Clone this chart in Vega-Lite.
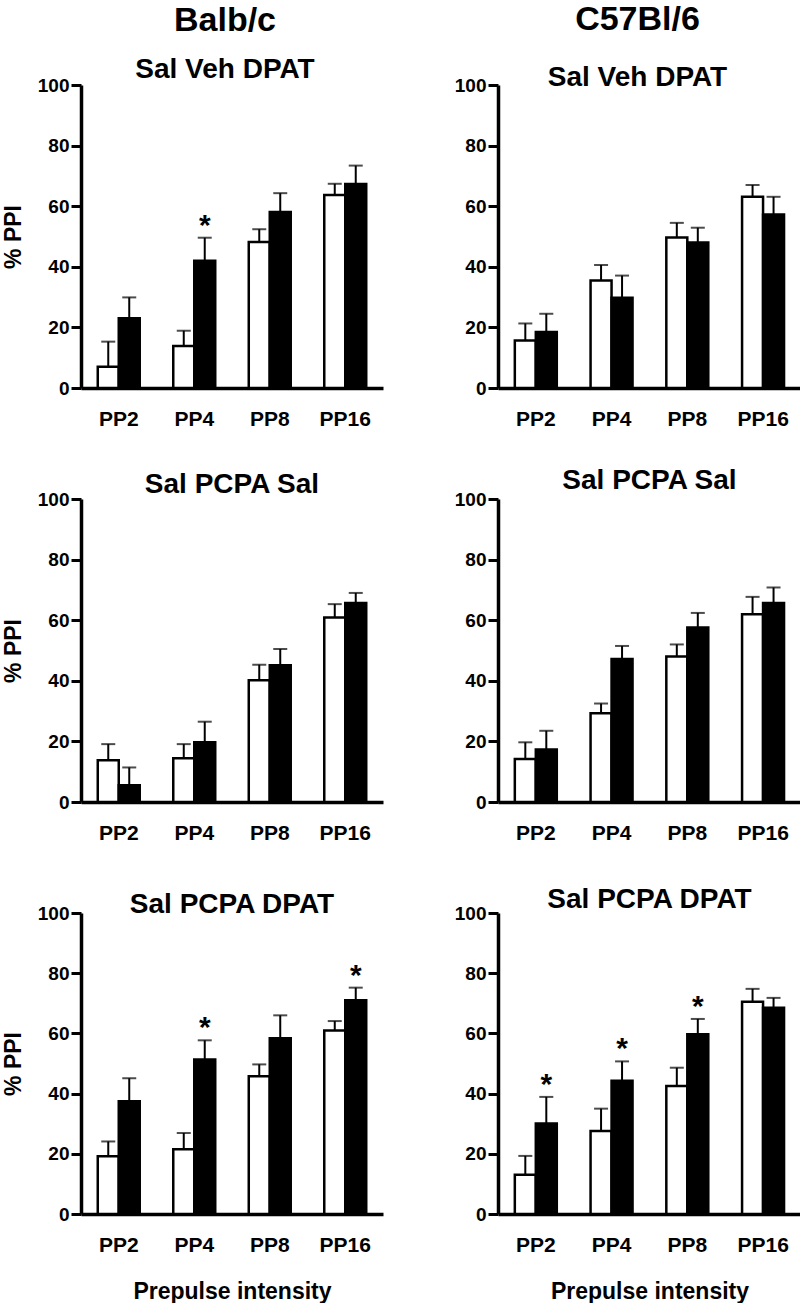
{
  "$schema": "https://vega.github.io/schema/vega-lite/v6.json",
  "padding": {"left": 2, "top": 3, "right": 0, "bottom": 0},
  "background": "white",
  "datasets": {
    "ppi": [
      {"strain": "Balb/c", "treatment": "Sal Veh DPAT", "pp": "PP2", "group": "open", "value": 7.0, "upper": 15.3, "star": ""},
      {"strain": "Balb/c", "treatment": "Sal Veh DPAT", "pp": "PP2", "group": "filled", "value": 23.0, "upper": 29.9, "star": ""},
      {"strain": "Balb/c", "treatment": "Sal Veh DPAT", "pp": "PP4", "group": "open", "value": 13.9, "upper": 18.9, "star": ""},
      {"strain": "Balb/c", "treatment": "Sal Veh DPAT", "pp": "PP4", "group": "filled", "value": 42.0, "upper": 49.6, "star": "*"},
      {"strain": "Balb/c", "treatment": "Sal Veh DPAT", "pp": "PP8", "group": "open", "value": 48.2, "upper": 52.4, "star": ""},
      {"strain": "Balb/c", "treatment": "Sal Veh DPAT", "pp": "PP8", "group": "filled", "value": 58.1, "upper": 64.3, "star": ""},
      {"strain": "Balb/c", "treatment": "Sal Veh DPAT", "pp": "PP16", "group": "open", "value": 63.7, "upper": 67.4, "star": ""},
      {"strain": "Balb/c", "treatment": "Sal Veh DPAT", "pp": "PP16", "group": "filled", "value": 67.3, "upper": 73.4, "star": ""},

      {"strain": "C57Bl/6", "treatment": "Sal Veh DPAT", "pp": "PP2", "group": "open", "value": 15.7, "upper": 21.3, "star": ""},
      {"strain": "C57Bl/6", "treatment": "Sal Veh DPAT", "pp": "PP2", "group": "filled", "value": 18.5, "upper": 24.5, "star": ""},
      {"strain": "C57Bl/6", "treatment": "Sal Veh DPAT", "pp": "PP4", "group": "open", "value": 35.5, "upper": 40.6, "star": ""},
      {"strain": "C57Bl/6", "treatment": "Sal Veh DPAT", "pp": "PP4", "group": "filled", "value": 29.8, "upper": 37.1, "star": ""},
      {"strain": "C57Bl/6", "treatment": "Sal Veh DPAT", "pp": "PP8", "group": "open", "value": 49.7, "upper": 54.5, "star": ""},
      {"strain": "C57Bl/6", "treatment": "Sal Veh DPAT", "pp": "PP8", "group": "filled", "value": 48.0, "upper": 52.9, "star": ""},
      {"strain": "C57Bl/6", "treatment": "Sal Veh DPAT", "pp": "PP16", "group": "open", "value": 63.1, "upper": 67.0, "star": ""},
      {"strain": "C57Bl/6", "treatment": "Sal Veh DPAT", "pp": "PP16", "group": "filled", "value": 57.3, "upper": 63.1, "star": ""},

      {"strain": "Balb/c", "treatment": "Sal PCPA Sal", "pp": "PP2", "group": "open", "value": 13.8, "upper": 19.1, "star": ""},
      {"strain": "Balb/c", "treatment": "Sal PCPA Sal", "pp": "PP2", "group": "filled", "value": 5.5, "upper": 11.4, "star": ""},
      {"strain": "Balb/c", "treatment": "Sal PCPA Sal", "pp": "PP4", "group": "open", "value": 14.4, "upper": 19.1, "star": ""},
      {"strain": "Balb/c", "treatment": "Sal PCPA Sal", "pp": "PP4", "group": "filled", "value": 19.7, "upper": 26.5, "star": ""},
      {"strain": "Balb/c", "treatment": "Sal PCPA Sal", "pp": "PP8", "group": "open", "value": 40.2, "upper": 45.3, "star": ""},
      {"strain": "Balb/c", "treatment": "Sal PCPA Sal", "pp": "PP8", "group": "filled", "value": 45.1, "upper": 50.5, "star": ""},
      {"strain": "Balb/c", "treatment": "Sal PCPA Sal", "pp": "PP16", "group": "open", "value": 60.9, "upper": 65.3, "star": ""},
      {"strain": "Balb/c", "treatment": "Sal PCPA Sal", "pp": "PP16", "group": "filled", "value": 65.7, "upper": 69.0, "star": ""},

      {"strain": "C57Bl/6", "treatment": "Sal PCPA Sal", "pp": "PP2", "group": "open", "value": 14.2, "upper": 19.7, "star": ""},
      {"strain": "C57Bl/6", "treatment": "Sal PCPA Sal", "pp": "PP2", "group": "filled", "value": 17.3, "upper": 23.5, "star": ""},
      {"strain": "C57Bl/6", "treatment": "Sal PCPA Sal", "pp": "PP4", "group": "open", "value": 29.3, "upper": 32.5, "star": ""},
      {"strain": "C57Bl/6", "treatment": "Sal PCPA Sal", "pp": "PP4", "group": "filled", "value": 47.2, "upper": 51.5, "star": ""},
      {"strain": "C57Bl/6", "treatment": "Sal PCPA Sal", "pp": "PP8", "group": "open", "value": 48.0, "upper": 52.0, "star": ""},
      {"strain": "C57Bl/6", "treatment": "Sal PCPA Sal", "pp": "PP8", "group": "filled", "value": 57.6, "upper": 62.4, "star": ""},
      {"strain": "C57Bl/6", "treatment": "Sal PCPA Sal", "pp": "PP16", "group": "open", "value": 62.0, "upper": 67.7, "star": ""},
      {"strain": "C57Bl/6", "treatment": "Sal PCPA Sal", "pp": "PP16", "group": "filled", "value": 65.7, "upper": 70.8, "star": ""},

      {"strain": "Balb/c", "treatment": "Sal PCPA DPAT", "pp": "PP2", "group": "open", "value": 19.2, "upper": 24.1, "star": ""},
      {"strain": "Balb/c", "treatment": "Sal PCPA DPAT", "pp": "PP2", "group": "filled", "value": 37.5, "upper": 45.1, "star": ""},
      {"strain": "Balb/c", "treatment": "Sal PCPA DPAT", "pp": "PP4", "group": "open", "value": 21.5, "upper": 26.9, "star": ""},
      {"strain": "Balb/c", "treatment": "Sal PCPA DPAT", "pp": "PP4", "group": "filled", "value": 51.3, "upper": 57.7, "star": "*"},
      {"strain": "Balb/c", "treatment": "Sal PCPA DPAT", "pp": "PP8", "group": "open", "value": 45.8, "upper": 49.7, "star": ""},
      {"strain": "Balb/c", "treatment": "Sal PCPA DPAT", "pp": "PP8", "group": "filled", "value": 58.4, "upper": 66.0, "star": ""},
      {"strain": "Balb/c", "treatment": "Sal PCPA DPAT", "pp": "PP16", "group": "open", "value": 61.0, "upper": 64.1, "star": ""},
      {"strain": "Balb/c", "treatment": "Sal PCPA DPAT", "pp": "PP16", "group": "filled", "value": 71.0, "upper": 75.2, "star": "*"},

      {"strain": "C57Bl/6", "treatment": "Sal PCPA DPAT", "pp": "PP2", "group": "open", "value": 13.0, "upper": 19.3, "star": ""},
      {"strain": "C57Bl/6", "treatment": "Sal PCPA DPAT", "pp": "PP2", "group": "filled", "value": 30.1, "upper": 38.9, "star": "*"},
      {"strain": "C57Bl/6", "treatment": "Sal PCPA DPAT", "pp": "PP4", "group": "open", "value": 27.6, "upper": 35.0, "star": ""},
      {"strain": "C57Bl/6", "treatment": "Sal PCPA DPAT", "pp": "PP4", "group": "filled", "value": 44.3, "upper": 50.7, "star": "*"},
      {"strain": "C57Bl/6", "treatment": "Sal PCPA DPAT", "pp": "PP8", "group": "open", "value": 42.5, "upper": 48.6, "star": ""},
      {"strain": "C57Bl/6", "treatment": "Sal PCPA DPAT", "pp": "PP8", "group": "filled", "value": 59.7, "upper": 64.8, "star": "*"},
      {"strain": "C57Bl/6", "treatment": "Sal PCPA DPAT", "pp": "PP16", "group": "open", "value": 70.5, "upper": 74.8, "star": ""},
      {"strain": "C57Bl/6", "treatment": "Sal PCPA DPAT", "pp": "PP16", "group": "filled", "value": 68.5, "upper": 71.8, "star": ""}
    ]
  },
  "config": {
    "view": {"stroke": null},
    "font": "Liberation Sans",
    "axis": {
      "domainColor": "black", "domainWidth": 3.5, "tickColor": "black", "tickWidth": 3,
      "labelColor": "black", "labelFont": "Liberation Sans", "labelFontWeight": "bold",
      "titleFont": "Liberation Sans", "titleFontWeight": "bold", "titleColor": "black", "grid": false
    },
    "axisX": {"ticks": false, "tickSize": 0, "labelAngle": 0, "labelFontSize": 21, "labelPadding": 20, "titleFontSize": 23, "titlePadding": 25},
    "axisY": {"tickSize": 10, "labelFontSize": 19, "labelPadding": 2, "titleFontSize": 23, "titlePadding": 12},
    "title": {"font": "Liberation Sans", "fontWeight": "bold", "fontSize": 28, "color": "black", "anchor": "middle",
              "subtitleFont": "Liberation Sans", "subtitleFontWeight": "bold", "subtitleFontSize": 28, "subtitleColor": "black"}
  },
  "columns": 2,
  "bounds": "flush",
  "spacing": {"row": 111, "column": 115},
  "concat": [
    {
      "width": 302, "height": 303,
      "title": {"text": "Balb/c", "fontSize": 34, "subtitle": "Sal Veh DPAT", "subtitlePadding": 18, "offset": -8, "dx": -7},
      "data": {"name": "ppi"},
      "transform": [{"filter": "datum.strain === 'Balb/c' && datum.treatment === 'Sal Veh DPAT'"}],
      "encoding": {
        "x": {"field": "pp", "type": "nominal", "sort": ["PP2", "PP4", "PP8", "PP16"], "scale": {"paddingInner": 0.444, "paddingOuter": 0.222}, "axis": {"title": null}},
        "xOffset": {"field": "group", "type": "nominal", "sort": ["open", "filled"], "scale": {"paddingInner": 0, "paddingOuter": 0}}
      },
      "layer": [
        {"mark": {"type": "bar", "stroke": "black", "strokeWidth": 2.5},
         "encoding": {"y": {"field": "value", "type": "quantitative", "scale": {"domain": [0, 100], "nice": false}, "axis": {"values": [0, 20, 40, 60, 80, 100], "title": "% PPI"}},
                      "fill": {"field": "group", "type": "nominal", "scale": {"domain": ["open", "filled"], "range": ["white", "black"]}, "legend": null}}},
        {"mark": {"type": "rule", "color": "black", "strokeWidth": 2}, "encoding": {"y": {"field": "value", "type": "quantitative"}, "y2": {"field": "upper"}}},
        {"mark": {"type": "tick", "color": "black", "thickness": 2, "size": 14}, "encoding": {"y": {"field": "upper", "type": "quantitative"}}},
        {"mark": {"type": "text", "fontSize": 30, "fontWeight": "bold", "baseline": "alphabetic", "dy": -3, "color": "black"}, "encoding": {"y": {"field": "upper", "type": "quantitative"}, "text": {"field": "star"}}}
      ]
    },
    {
      "width": 303, "height": 303,
      "title": {"text": "C57Bl/6", "fontSize": 34, "subtitle": "Sal Veh DPAT", "subtitlePadding": 27, "offset": -16, "dx": -12},
      "data": {"name": "ppi"},
      "transform": [{"filter": "datum.strain === 'C57Bl/6' && datum.treatment === 'Sal Veh DPAT'"}],
      "encoding": {
        "x": {"field": "pp", "type": "nominal", "sort": ["PP2", "PP4", "PP8", "PP16"], "scale": {"paddingInner": 0.444, "paddingOuter": 0.222}, "axis": {"title": null}},
        "xOffset": {"field": "group", "type": "nominal", "sort": ["open", "filled"], "scale": {"paddingInner": 0, "paddingOuter": 0}}
      },
      "layer": [
        {"mark": {"type": "bar", "stroke": "black", "strokeWidth": 2.5},
         "encoding": {"y": {"field": "value", "type": "quantitative", "scale": {"domain": [0, 100], "nice": false}, "axis": {"values": [0, 20, 40, 60, 80, 100], "title": null}},
                      "fill": {"field": "group", "type": "nominal", "scale": {"domain": ["open", "filled"], "range": ["white", "black"]}, "legend": null}}},
        {"mark": {"type": "rule", "color": "black", "strokeWidth": 2}, "encoding": {"y": {"field": "value", "type": "quantitative"}, "y2": {"field": "upper"}}},
        {"mark": {"type": "tick", "color": "black", "thickness": 2, "size": 14}, "encoding": {"y": {"field": "upper", "type": "quantitative"}}},
        {"mark": {"type": "text", "fontSize": 30, "fontWeight": "bold", "baseline": "alphabetic", "dy": -3, "color": "black"}, "encoding": {"y": {"field": "upper", "type": "quantitative"}, "text": {"field": "star"}}}
      ]
    },
    {
      "width": 302, "height": 303,
      "title": {"text": "Sal PCPA Sal", "offset": -9},
      "data": {"name": "ppi"},
      "transform": [{"filter": "datum.strain === 'Balb/c' && datum.treatment === 'Sal PCPA Sal'"}],
      "encoding": {
        "x": {"field": "pp", "type": "nominal", "sort": ["PP2", "PP4", "PP8", "PP16"], "scale": {"paddingInner": 0.444, "paddingOuter": 0.222}, "axis": {"title": null}},
        "xOffset": {"field": "group", "type": "nominal", "sort": ["open", "filled"], "scale": {"paddingInner": 0, "paddingOuter": 0}}
      },
      "layer": [
        {"mark": {"type": "bar", "stroke": "black", "strokeWidth": 2.5},
         "encoding": {"y": {"field": "value", "type": "quantitative", "scale": {"domain": [0, 100], "nice": false}, "axis": {"values": [0, 20, 40, 60, 80, 100], "title": "% PPI"}},
                      "fill": {"field": "group", "type": "nominal", "scale": {"domain": ["open", "filled"], "range": ["white", "black"]}, "legend": null}}},
        {"mark": {"type": "rule", "color": "black", "strokeWidth": 2}, "encoding": {"y": {"field": "value", "type": "quantitative"}, "y2": {"field": "upper"}}},
        {"mark": {"type": "tick", "color": "black", "thickness": 2, "size": 14}, "encoding": {"y": {"field": "upper", "type": "quantitative"}}},
        {"mark": {"type": "text", "fontSize": 30, "fontWeight": "bold", "baseline": "alphabetic", "dy": -3, "color": "black"}, "encoding": {"y": {"field": "upper", "type": "quantitative"}, "text": {"field": "star"}}}
      ]
    },
    {
      "width": 303, "height": 303,
      "title": {"text": "Sal PCPA Sal", "offset": -5},
      "data": {"name": "ppi"},
      "transform": [{"filter": "datum.strain === 'C57Bl/6' && datum.treatment === 'Sal PCPA Sal'"}],
      "encoding": {
        "x": {"field": "pp", "type": "nominal", "sort": ["PP2", "PP4", "PP8", "PP16"], "scale": {"paddingInner": 0.444, "paddingOuter": 0.222}, "axis": {"title": null}},
        "xOffset": {"field": "group", "type": "nominal", "sort": ["open", "filled"], "scale": {"paddingInner": 0, "paddingOuter": 0}}
      },
      "layer": [
        {"mark": {"type": "bar", "stroke": "black", "strokeWidth": 2.5},
         "encoding": {"y": {"field": "value", "type": "quantitative", "scale": {"domain": [0, 100], "nice": false}, "axis": {"values": [0, 20, 40, 60, 80, 100], "title": null}},
                      "fill": {"field": "group", "type": "nominal", "scale": {"domain": ["open", "filled"], "range": ["white", "black"]}, "legend": null}}},
        {"mark": {"type": "rule", "color": "black", "strokeWidth": 2}, "encoding": {"y": {"field": "value", "type": "quantitative"}, "y2": {"field": "upper"}}},
        {"mark": {"type": "tick", "color": "black", "thickness": 2, "size": 14}, "encoding": {"y": {"field": "upper", "type": "quantitative"}}},
        {"mark": {"type": "text", "fontSize": 30, "fontWeight": "bold", "baseline": "alphabetic", "dy": -3, "color": "black"}, "encoding": {"y": {"field": "upper", "type": "quantitative"}, "text": {"field": "star"}}}
      ]
    },
    {
      "width": 302, "height": 301,
      "title": {"text": "Sal PCPA DPAT", "offset": -15},
      "data": {"name": "ppi"},
      "transform": [{"filter": "datum.strain === 'Balb/c' && datum.treatment === 'Sal PCPA DPAT'"}],
      "encoding": {
        "x": {"field": "pp", "type": "nominal", "sort": ["PP2", "PP4", "PP8", "PP16"], "scale": {"paddingInner": 0.444, "paddingOuter": 0.222}, "axis": {"title": "Prepulse intensity"}},
        "xOffset": {"field": "group", "type": "nominal", "sort": ["open", "filled"], "scale": {"paddingInner": 0, "paddingOuter": 0}}
      },
      "layer": [
        {"mark": {"type": "bar", "stroke": "black", "strokeWidth": 2.5},
         "encoding": {"y": {"field": "value", "type": "quantitative", "scale": {"domain": [0, 100], "nice": false}, "axis": {"values": [0, 20, 40, 60, 80, 100], "title": "% PPI"}},
                      "fill": {"field": "group", "type": "nominal", "scale": {"domain": ["open", "filled"], "range": ["white", "black"]}, "legend": null}}},
        {"mark": {"type": "rule", "color": "black", "strokeWidth": 2}, "encoding": {"y": {"field": "value", "type": "quantitative"}, "y2": {"field": "upper"}}},
        {"mark": {"type": "tick", "color": "black", "thickness": 2, "size": 14}, "encoding": {"y": {"field": "upper", "type": "quantitative"}}},
        {"mark": {"type": "text", "fontSize": 30, "fontWeight": "bold", "baseline": "alphabetic", "dy": -3, "color": "black"}, "encoding": {"y": {"field": "upper", "type": "quantitative"}, "text": {"field": "star"}}}
      ]
    },
    {
      "width": 303, "height": 301,
      "title": {"text": "Sal PCPA DPAT", "offset": -10},
      "data": {"name": "ppi"},
      "transform": [{"filter": "datum.strain === 'C57Bl/6' && datum.treatment === 'Sal PCPA DPAT'"}],
      "encoding": {
        "x": {"field": "pp", "type": "nominal", "sort": ["PP2", "PP4", "PP8", "PP16"], "scale": {"paddingInner": 0.444, "paddingOuter": 0.222}, "axis": {"title": "Prepulse intensity"}},
        "xOffset": {"field": "group", "type": "nominal", "sort": ["open", "filled"], "scale": {"paddingInner": 0, "paddingOuter": 0}}
      },
      "layer": [
        {"mark": {"type": "bar", "stroke": "black", "strokeWidth": 2.5},
         "encoding": {"y": {"field": "value", "type": "quantitative", "scale": {"domain": [0, 100], "nice": false}, "axis": {"values": [0, 20, 40, 60, 80, 100], "title": null}},
                      "fill": {"field": "group", "type": "nominal", "scale": {"domain": ["open", "filled"], "range": ["white", "black"]}, "legend": null}}},
        {"mark": {"type": "rule", "color": "black", "strokeWidth": 2}, "encoding": {"y": {"field": "value", "type": "quantitative"}, "y2": {"field": "upper"}}},
        {"mark": {"type": "tick", "color": "black", "thickness": 2, "size": 14}, "encoding": {"y": {"field": "upper", "type": "quantitative"}}},
        {"mark": {"type": "text", "fontSize": 30, "fontWeight": "bold", "baseline": "alphabetic", "dy": -3, "color": "black"}, "encoding": {"y": {"field": "upper", "type": "quantitative"}, "text": {"field": "star"}}}
      ]
    }
  ]
}
